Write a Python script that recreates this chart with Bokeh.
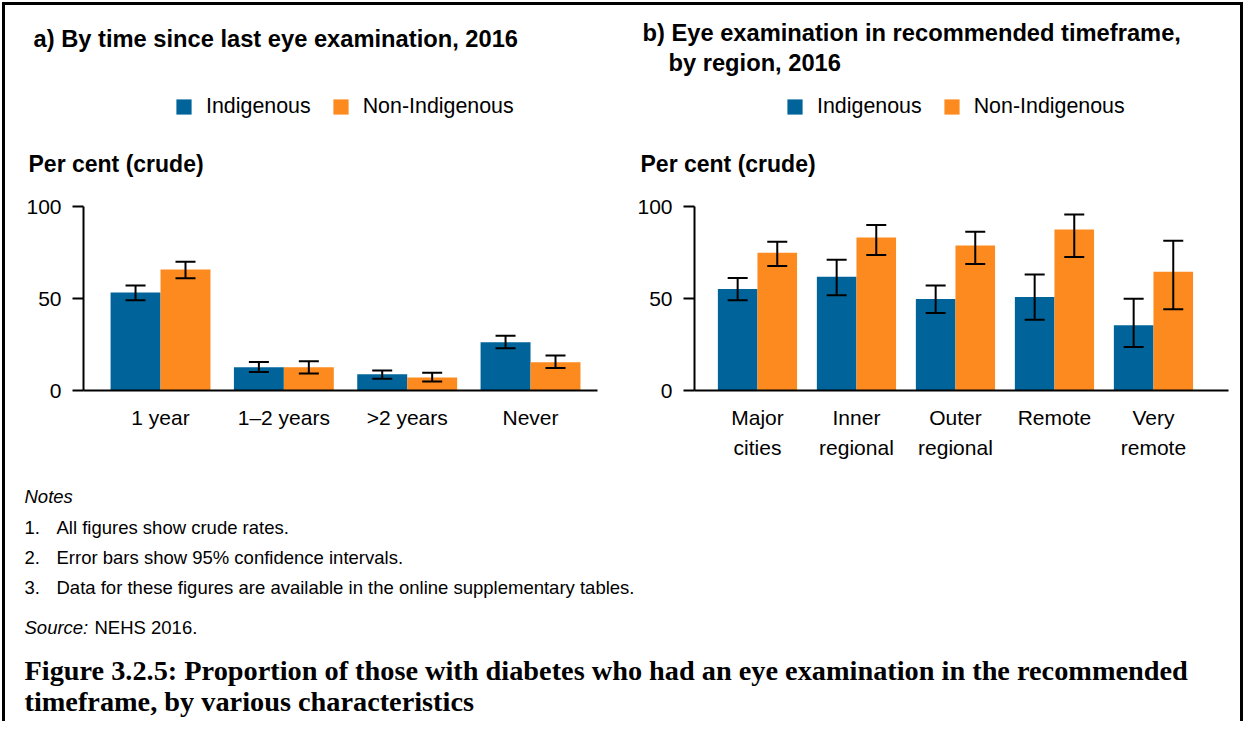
import numpy as np
from bokeh.plotting import figure
from bokeh.models import (ColumnDataSource, Whisker, TeeHead, Label, Legend, LegendItem,
                          FixedTicker, Range1d, LinearAxis)
from bokeh.layouts import row, column
from bokeh.embed import file_html
from bokeh.resources import INLINE

# ---------------- data ----------------
time_cats = ["1 year", "1–2 years", ">2 years", "Never"]
time_ind = [53.2, 12.6, 8.8, 26.2]
time_ind_lo = [49.0, 10.0, 6.4, 23.0]
time_ind_hi = [57.0, 15.5, 10.9, 29.7]
time_non = [65.8, 12.6, 7.1, 15.3]
time_non_lo = [61.0, 9.3, 4.9, 12.2]
time_non_hi = [70.0, 15.9, 9.7, 19.0]

region_cats_line1 = ["Major", "Inner", "Outer", "Remote", "Very"]
region_cats_line2 = ["cities", "regional", "regional", "", "remote"]
region_ind = [55.2, 61.8, 49.7, 50.8, 35.5]
region_ind_lo = [49.1, 51.7, 42.1, 38.5, 23.6]
region_ind_hi = [61.1, 71.0, 57.1, 63.0, 49.9]
region_non = [74.9, 83.2, 78.8, 87.5, 64.6]
region_non_lo = [67.7, 73.7, 68.8, 72.6, 44.2]
region_non_hi = [80.8, 90.0, 86.3, 95.6, 81.4]

series_names = ["Indigenous", "Non-Indigenous"]
y_ticks = [0, 50, 100]

notes = ["All figures show crude rates.",
         "Error bars show 95% confidence intervals.",
         "Data for these figures are available in the online supplementary tables."]

BLUE = "#00649A"
ORANGE = "#FD8A1E"
SANS = "Liberation Sans"
SERIF = "Liberation Serif"

HEADER_H = 180
CHART_H = 290
NOTES_H = 246
WA = 615
WB = 620


def add_label(p, text, x, y, size, style="normal", font=SANS):
    p.add_layout(Label(x=x, y=y, x_units="canvas", y_units="canvas", text=text,
                       text_font=font, text_font_size=f"{size}px", text_font_style=style,
                       text_baseline="middle", text_align="left", text_color="black"))


def blank(width, height):
    p = figure(width=width, height=height, x_axis_type=None, y_axis_type=None,
               toolbar_location=None, output_backend="svg", min_border=0,
               x_range=Range1d(0, 1), y_range=Range1d(0, 1))
    p.outline_line_color = None
    return p


def make_sources(n, ind, ind_lo, ind_hi, non, non_lo, non_hi, bar_w):
    idx = list(range(n))
    s_ind = ColumnDataSource(dict(x=[i - bar_w / 2 for i in idx], top=ind, lo=ind_lo, hi=ind_hi))
    s_non = ColumnDataSource(dict(x=[i + bar_w / 2 for i in idx], top=non, lo=non_lo, hi=non_hi))
    return s_ind, s_non


def header(width, titles, per_x, legend_x, s_ind, s_non, bar_w):
    p = blank(width, HEADER_H)
    for (t, x, y) in titles:
        add_label(p, t, x, y, 23.7, "bold")
    add_label(p, "Per cent (crude)", per_x, 158, 23, "bold")
    # hidden copies of the bars, only used to feed the legend swatches
    r1 = p.vbar(x="x", top="top", width=bar_w, source=s_ind, fill_color=BLUE, line_color=None, visible=False)
    r2 = p.vbar(x="x", top="top", width=bar_w, source=s_non, fill_color=ORANGE, line_color=None, visible=False)
    leg = Legend(items=[LegendItem(label=series_names[0], renderers=[r1]),
                        LegendItem(label=series_names[1], renderers=[r2])],
                 orientation="horizontal", location=(legend_x, HEADER_H - 114),
                 glyph_width=19, glyph_height=19, label_height=19,
                 label_standoff=13, spacing=20, padding=0, margin=0,
                 border_line_color=None, background_fill_alpha=0,
                 inactive_fill_alpha=0,
                 label_text_font=SANS, label_text_font_size="21.4px", label_text_color="black")
    p.add_layout(leg, "center")
    return p


def style_x(ax, idx, labels, standoff):
    ax.ticker = FixedTicker(ticks=idx)
    ax.major_label_overrides = {i: c for i, c in zip(idx, labels)}
    ax.major_tick_line_color = None
    ax.minor_tick_line_color = None
    ax.major_tick_out = 0
    ax.major_tick_in = 0
    ax.major_label_text_font = SANS
    ax.major_label_text_font_size = "21px"
    ax.major_label_text_color = "black"
    ax.major_label_standoff = standoff


def chart(cats1, cats2, s_ind, s_non, width, xr, bar_w, bl, br):
    n = len(cats1)
    idx = list(range(n))
    p = figure(width=width, height=CHART_H, x_range=Range1d(*xr), y_range=Range1d(0, 100),
               output_backend="svg", toolbar_location=None,
               min_border_left=bl, min_border_right=br, min_border_top=21, min_border_bottom=85)
    p.outline_line_color = None
    p.xgrid.visible = False
    p.ygrid.visible = False
    p.vbar(x="x", top="top", bottom=0, width=bar_w, source=s_ind, fill_color=BLUE, line_color=None)
    p.vbar(x="x", top="top", bottom=0, width=bar_w, source=s_non, fill_color=ORANGE, line_color=None)
    for s in (s_ind, s_non):
        p.add_layout(Whisker(source=s, base="x", upper="hi", lower="lo", level="annotation",
                             line_color="black", line_width=2,
                             upper_head=TeeHead(size=20, line_color="black", line_width=2),
                             lower_head=TeeHead(size=20, line_color="black", line_width=2)))
    xa = p.xaxis[0]
    style_x(xa, idx, cats1, 15)
    xa.axis_line_color = "black"
    xa.axis_line_width = 2
    if cats2 is not None:
        xa2 = LinearAxis()
        style_x(xa2, idx, cats2, 4)
        xa2.axis_line_color = None
        p.add_layout(xa2, "below")
    ya = p.yaxis[0]
    ya.ticker = FixedTicker(ticks=y_ticks)
    ya.minor_tick_line_color = None
    ya.major_tick_out = 11
    ya.major_tick_in = 0
    ya.major_tick_line_width = 2
    ya.major_tick_line_color = "black"
    ya.axis_line_color = "black"
    ya.axis_line_width = 2
    ya.major_label_text_font = SANS
    ya.major_label_text_font_size = "21px"
    ya.major_label_text_color = "black"
    ya.major_label_standoff = 11
    return p


BW_A = 0.405
BW_B = 0.40
sa_ind, sa_non = make_sources(len(time_cats), time_ind, time_ind_lo, time_ind_hi,
                              time_non, time_non_lo, time_non_hi, BW_A)
sb_ind, sb_non = make_sources(len(region_cats_line1), region_ind, region_ind_lo, region_ind_hi,
                              region_non, region_non_lo, region_non_hi, BW_B)

ha = header(WA, [("a) By time since last eye examination, 2016", 28, 33)], 23, 169, sa_ind, sa_non, BW_A)
hb = header(WB, [("b) Eye examination in recommended timeframe,", 22, 27),
                 ("by region, 2016", 48, 57)], 20, 165, sb_ind, sb_non, BW_B)

ca = chart(time_cats, None, sa_ind, sa_non, WA, (-0.6245, 3.543), BW_A, 78, 23)
cb = chart(region_cats_line1, region_cats_line2, sb_ind, sb_non, WB, (-0.636, 4.758), BW_B, 74, 12)

pc = blank(WA + WB, NOTES_H)
add_label(pc, "Notes", 19, 21, 18.5, "italic")
for k, t in enumerate(notes):
    add_label(pc, f"{k + 1}.", 19, 52 + 30 * k, 18.5)
    add_label(pc, t, 51, 52 + 30 * k, 18.5)
add_label(pc, "Source:", 19, 152, 18.5, "italic")
add_label(pc, "NEHS 2016.", 89, 152, 18.5)
add_label(pc, "Figure 3.2.5: Proportion of those with diabetes who had an eye examination in the recommended",
          19, 195, 28.3, "bold", SERIF)
add_label(pc, "timeframe, by various characteristics", 19, 226, 28.3, "bold", SERIF)

layout = column(row(ha, hb), row(ca, cb), pc,
                styles={"border-left": "3px solid black", "border-top": "3px solid black",
                        "border-right": "3px solid black",
                        "margin-left": "2px", "margin-top": "2px"})

open("out.html", "w").write(file_html(layout, INLINE))
